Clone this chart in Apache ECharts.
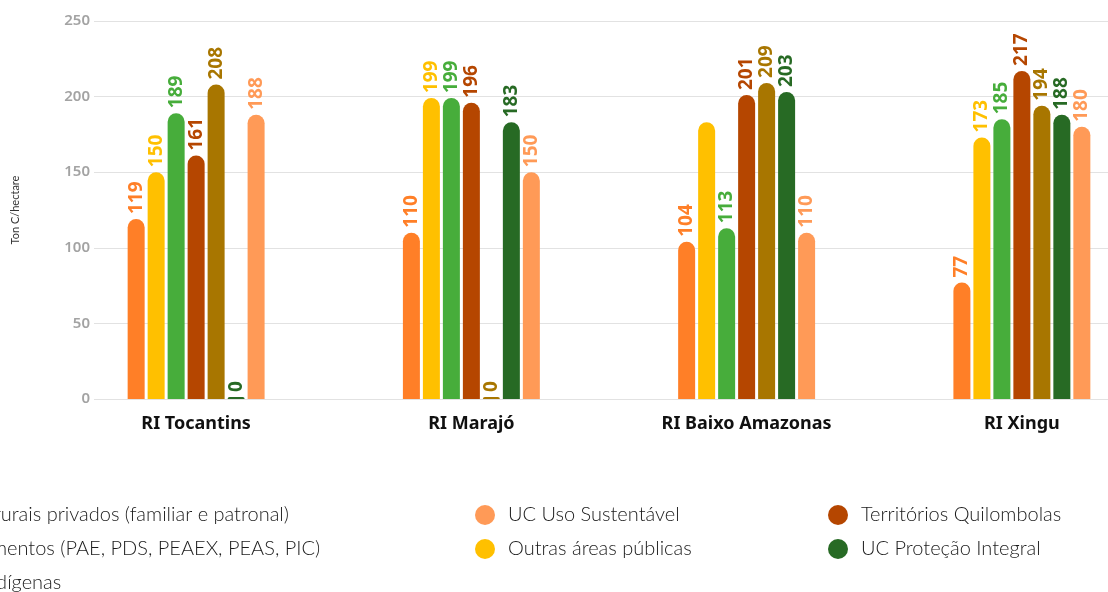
<!DOCTYPE html>
<html>
<head>
<meta charset="utf-8">
<script src="https://cdn.jsdelivr.net/npm/echarts@6/dist/echarts.min.js"></script>
<style>
  html, body { margin: 0; padding: 0; background: #fff; }
  #chart { width: 1108px; height: 592px; }
</style>
</head>
<body>
<div id="chart"></div>
<script>
// categorias
var regioes = ['RI Tocantins', 'RI Marajó', 'RI Baixo Amazonas', 'RI Xingu'];

// valores (Ton C/hectare)
var imoveisRurais = [119, 110, 104, 77];
var outrasAreas = [150, 199, 183, 173];
var assentamentos = [189, 199, 113, 185];
var quilombolas = [161, 196, 201, 217];
var indigenas = [208, 0, 209, 194];
var ucProtecao = [0, 183, 203, 188];
var ucUso = [188, 150, 110, 180];

// rótulo escondido no gráfico original (Outras áreas públicas, Baixo Amazonas)
var semRotulo = { 'Outras áreas públicas': [2] };

var yTicks = { min: 0, max: 250, interval: 50 };

var series = [
    { name: 'Imóveis rurais privados (familiar e patronal)', data: imoveisRurais, color: '#FF7F27' },
    { name: 'Outras áreas públicas', data: outrasAreas, color: '#FFC000' },
    { name: 'Assentamentos (PAE, PDS, PEAEX, PEAS, PIC)', data: assentamentos, color: '#47AD3B' },
    { name: 'Territórios Quilombolas', data: quilombolas, color: '#B54600' },
    { name: 'Terras Indígenas', data: indigenas, color: '#A87600' },
    { name: 'UC Proteção Integral', data: ucProtecao, color: '#276A24' },
    { name: 'UC Uso Sustentável', data: ucUso, color: '#FF9A57' }
];

var chart = echarts.init(document.getElementById('chart'));

var legendText = { fontFamily: 'Lato', fontWeight: 300, fontSize: 20, color: '#1a1a1a', padding: [0, 0, 0, 8] };
function legendCol(left, names) {
    return {
        orient: 'vertical',
        left: left,
        top: 500,
        height: 200,
        itemWidth: 20,
        itemHeight: 20,
        itemGap: 14,
        icon: 'circle',
        textStyle: legendText,
        data: names
    };
}

var option = {
    animation: false,
    backgroundColor: '#fff',
    legend: [
        legendCol(-115, [series[0].name, series[2].name, series[4].name]),
        legendCol(470, [series[6].name, series[1].name]),
        legendCol(823, [series[3].name, series[5].name])
    ],
    grid: [
        // grade das linhas horizontais e eixo y
        { left: 94, right: 0, top: 21, bottom: 193 },
        // grade das barras (mais larga, cortada à direita)
        { left: 58.5, width: 1101, top: 21, bottom: 193, outerBoundsMode: 'none' }
    ],
    xAxis: [
        { type: 'category', gridIndex: 0, data: regioes, show: false },
        {
            type: 'category',
            gridIndex: 1,
            data: regioes,
            axisLine: { show: false },
            axisTick: { show: false },
            axisLabel: {
                margin: 16,
                fontFamily: 'Noto Sans',
                fontWeight: 'bold',
                fontSize: 18,
                color: '#111'
            }
        }
    ],
    yAxis: [
        {
            type: 'value',
            gridIndex: 0,
            min: yTicks.min,
            max: yTicks.max,
            interval: yTicks.interval,
            name: 'Ton C/hectare',
            nameLocation: 'middle',
            nameGap: 73,
            nameTextStyle: { fontFamily: 'Lato', fontSize: 11, color: '#333' },
            axisLine: { show: false },
            axisTick: { show: false },
            axisLabel: {
                margin: 4,
                fontFamily: 'Noto Sans',
                fontWeight: 600,
                fontSize: 15,
                color: '#a3a3a3'
            },
            splitLine: { lineStyle: { color: '#e2e2e2', width: 1 } }
        },
        {
            type: 'value',
            gridIndex: 1,
            min: yTicks.min,
            max: yTicks.max,
            interval: yTicks.interval,
            show: false,
            splitLine: { show: false }
        }
    ],
    series: series.map(function (s) {
        var hide = semRotulo[s.name] || [];
        return {
            name: s.name,
            type: 'bar',
            xAxisIndex: 1,
            yAxisIndex: 1,
            barWidth: 17,
            barGap: '17.6%',
            barMinHeight: 2,
            itemStyle: { color: s.color, borderRadius: [9, 9, 0, 0] },
            label: {
                show: true,
                position: 'top',
                rotate: 90,
                align: 'left',
                verticalAlign: 'middle',
                distance: 5,
                fontFamily: 'Noto Sans',
                fontWeight: 'bold',
                fontSize: 19,
                color: s.color
            },
            data: s.data.map(function (v, i) {
                return hide.indexOf(i) >= 0 ? { value: v, label: { show: false } } : v;
            })
        };
    })
};

chart.setOption(option);
</script>
</body>
</html>
